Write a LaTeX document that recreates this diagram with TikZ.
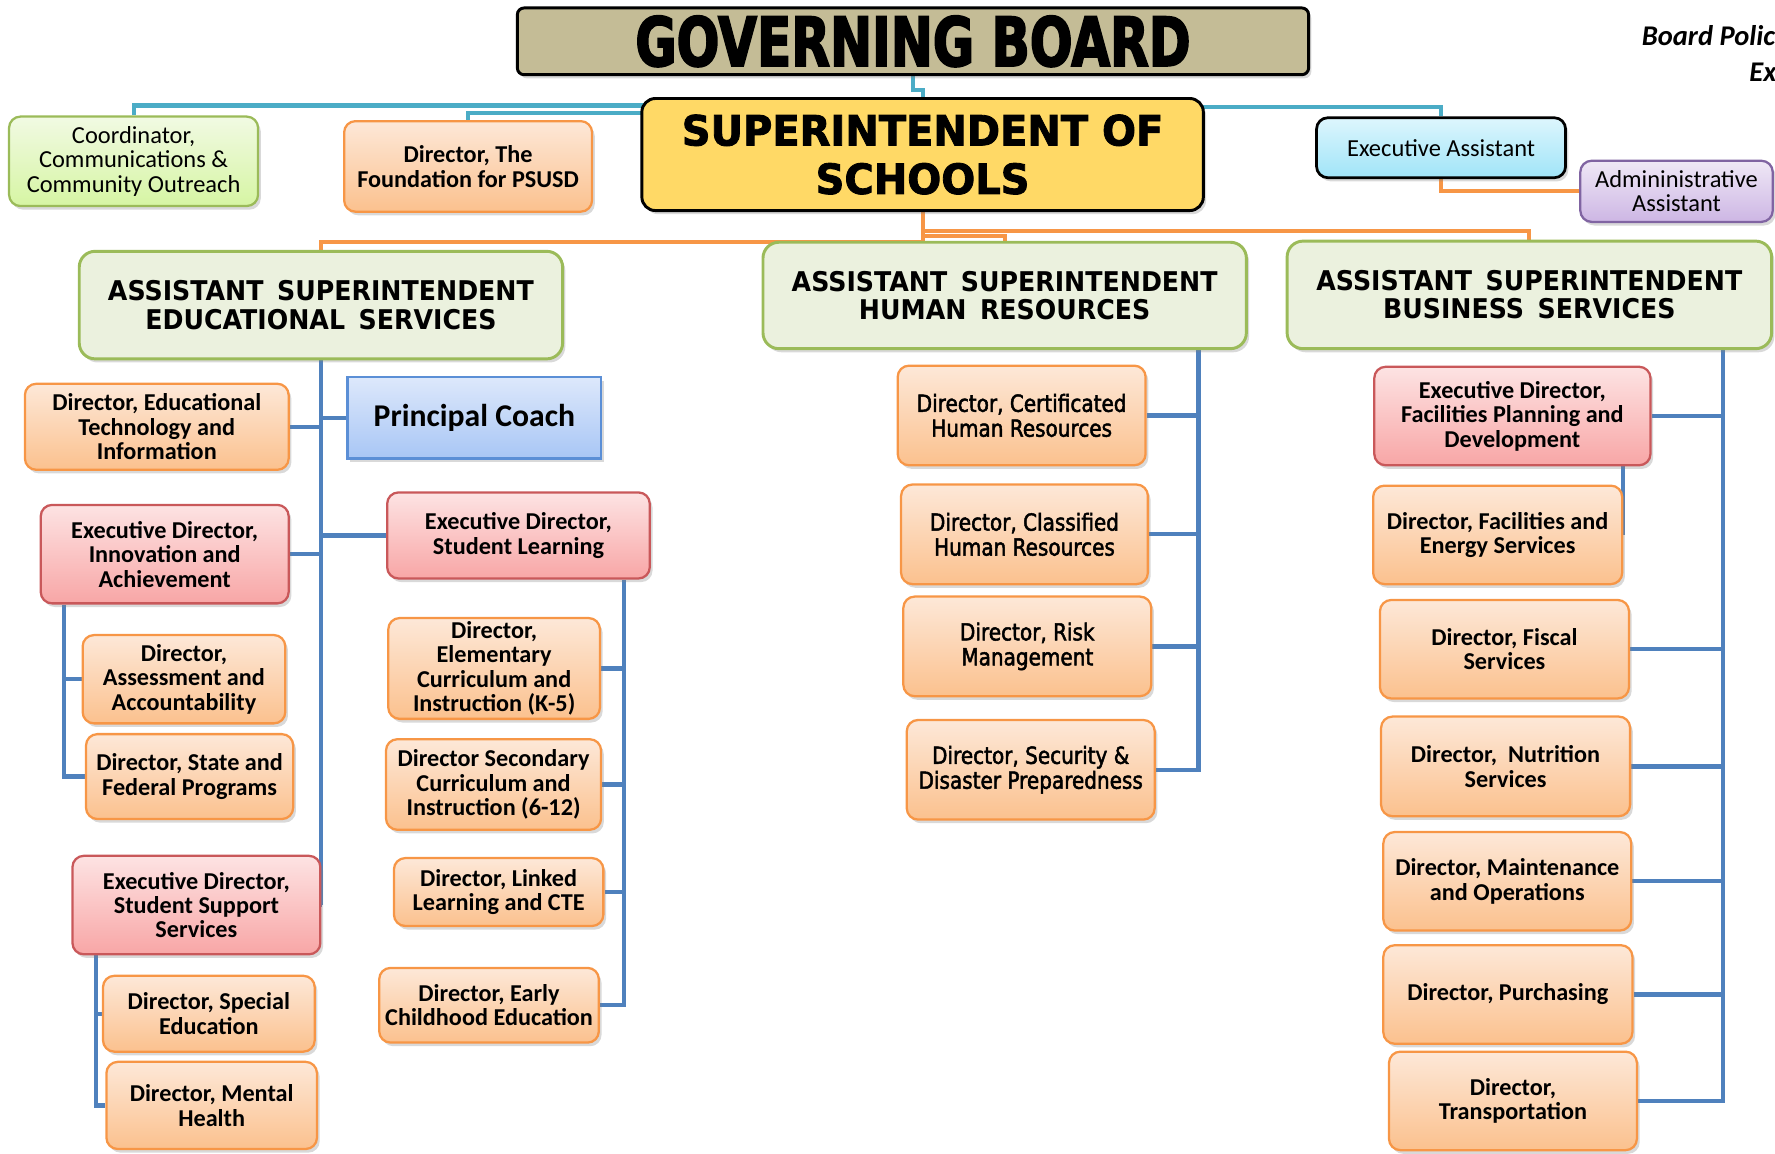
\documentclass[tikz,border=0pt]{standalone}
\usepackage{fontspec}
\setmainfont{Carlito}
\newfontfamily\hrfont{DejaVu Sans}[FakeStretch=0.85,FakeBold=2]
\newfontfamily\titlefont{DejaVu Sans}[FakeStretch=0.93]
\newfontfamily\govfont{DejaVu Sans}[FakeStretch=0.74,FakeBold=2.5]
\newfontfamily\supfont{DejaVu Sans}[FakeStretch=0.96,FakeBold=2]
\usepackage{tikz}
\usetikzlibrary{positioning,shadows,backgrounds,calc}

\definecolor{boardtan}{HTML}{C4BC96}
\definecolor{supyellow}{HTML}{FFD966}
\definecolor{linecyan}{HTML}{4BACC6}
\definecolor{lineorange}{HTML}{F79646}
\definecolor{lineblue}{HTML}{4F81BD}
\definecolor{orangetop}{HTML}{FDE8D8}
\definecolor{orangebot}{HTML}{FBC18E}
\definecolor{redtop}{HTML}{FDE3E3}
\definecolor{redbot}{HTML}{F8A6A6}
\definecolor{redline}{HTML}{C9585A}
\definecolor{titlefill}{HTML}{EBF1DE}
\definecolor{titlegreen}{HTML}{9BBB59}
\definecolor{greentop}{HTML}{F1FAE3}
\definecolor{greenbot}{HTML}{D6F5A3}
\definecolor{cyantop}{HTML}{DDF6FD}
\definecolor{cyanbot}{HTML}{A0E4F8}
\definecolor{lilactop}{HTML}{EFE8F6}
\definecolor{lilacbot}{HTML}{CDB6E4}
\definecolor{lilacline}{HTML}{8064A2}
\definecolor{coachtop}{HTML}{DDE8FB}
\definecolor{coachbot}{HTML}{A8C6F5}
\definecolor{coachline}{HTML}{5B8FD6}

\tikzset{
  orgbox/.style={draw, rounded corners=5pt, align=center, inner sep=1.5pt, line width=1pt,
    drop shadow={shadow xshift=1.2pt, shadow yshift=-1.6pt, opacity=0.3}},
  dirbox/.style={orgbox, draw=lineorange, top color=orangetop, bottom color=orangebot,
    font=\bfseries\fontsize{10.7}{10.8}\selectfont},
  exbox/.style={orgbox, draw=redline, top color=redtop, bottom color=redbot,
    font=\bfseries\fontsize{10.7}{10.8}\selectfont},
  hrbox/.style={dirbox, font=\hrfont\fontsize{10.4}{11}\selectfont},
  asbox/.style={orgbox, draw=titlegreen, fill=titlefill, rounded corners=7pt, line width=1.3pt,
    font=\titlefont\bfseries\fontsize{12}{12.5}\selectfont},
  lightbox/.style={orgbox, font=\fontsize{10.8}{10.8}\selectfont},
  blueline/.style={draw=lineblue, line width=1.9pt},
  orangeline/.style={draw=lineorange, line width=1.8pt},
  topline/.style={draw=linecyan, line width=1.8pt},
  policytext/.style={inner sep=0pt, font=\bfseries\itshape\fontsize{12.6}{13}\selectfont}
}

\begin{document}
\begin{tikzpicture}[x=0.5pt,y=-0.5pt]
\useasboundingbox (0,0) rectangle (1568,1019);

\node[orgbox, fill=boardtan, draw=black, line width=1.3pt, rounded corners=3pt,
  minimum width=349.5pt, minimum height=29.5pt,
  font=\govfont\bfseries\fontsize{30}{30}\selectfont] (gov) at (806.5,36.5) {GOVERNING BOARD};
\node[orgbox, fill=supyellow, draw=black, line width=1.3pt, rounded corners=6pt,
  minimum width=248pt, minimum height=49.5pt,
  font=\supfont\bfseries\fontsize{18.4}{21.4}\selectfont] (sup) at (815,136.5) {SUPERINTENDENT OF\\SCHOOLS};
\node[lightbox, draw=titlegreen, top color=greentop, bottom color=greenbot,
  minimum width=110pt, minimum height=39.5pt] (coord) at (118,142.5) {Coordinator,\\Communications \&\\Community Outreach};
\node[dirbox, minimum width=109.5pt, minimum height=40pt] (found) at (413.5,147) {Director, The\\Foundation for PSUSD};
\node[lightbox, draw=black, line width=1.2pt, top color=cyantop, bottom color=cyanbot,
  minimum width=110pt, minimum height=26.5pt] (execasst) at (1273,130.5) {Executive Assistant};
\node[lightbox, draw=lilacline, top color=lilactop, bottom color=lilacbot,
  minimum width=85pt, minimum height=27pt] (adminasst) at (1481,169) {Admininistrative\\Assistant};
\node[policytext, anchor=base west] (policy) at (1450,40) {Board Polic};
\node[policytext, anchor=base west] (exhibit) at (1545,72) {Ex};

\node[asbox, minimum width=213.5pt, minimum height=47.5pt] (ases) at (283.5,269.5) {ASSISTANT\hspace{.5em}SUPERINTENDENT\\EDUCATIONAL\hspace{.5em}SERVICES};
\node[asbox, minimum width=213.5pt, minimum height=47pt] (ashr) at (887.5,261) {ASSISTANT\hspace{.5em}SUPERINTENDENT\\HUMAN\hspace{.5em}RESOURCES};
\node[asbox, minimum width=214pt, minimum height=47.5pt] (asbs) at (1351,260.5) {ASSISTANT\hspace{.5em}SUPERINTENDENT\\BUSINESS\hspace{.5em}SERVICES};

\node[dirbox, minimum width=116.5pt, minimum height=38pt] (edtech) at (138.5,377) {Director, Educational\\Technology and\\Information};
\node[orgbox, rounded corners=0pt, draw=coachline, top color=coachtop, bottom color=coachbot,
  minimum width=112pt, minimum height=36pt, font=\bfseries\fontsize{14}{14}\selectfont] (coach) at (419,369) {Principal Coach};
\node[exbox, minimum width=109.5pt, minimum height=43.5pt] (innov) at (145.5,489.5) {Executive Director,\\Innovation and\\Achievement};
\node[exbox, minimum width=116pt, minimum height=38pt] (stlearn) at (458,473) {Executive Director,\\Student Learning};
\node[dirbox, minimum width=89.5pt, minimum height=39pt] (assess) at (162.5,600) {Director,\\Assessment and\\Accountability};
\node[dirbox, minimum width=91.5pt, minimum height=37.5pt] (statefed) at (167.5,686) {Director, State and\\Federal Programs};
\node[exbox, minimum width=109.5pt, minimum height=43.5pt] (stsupport) at (173.5,799.5) {Executive Director,\\Student Support\\Services};
\node[dirbox, minimum width=93.5pt, minimum height=33.5pt] (speced) at (184.5,895.5) {Director, Special\\Education};
\node[dirbox, minimum width=93pt, minimum height=38.5pt] (mental) at (187,976.5) {Director, Mental\\Health};
\node[dirbox, minimum width=93.5pt, minimum height=43.5pt] (elem) at (436.5,590.5) {Director,\\Elementary\\Curriculum and\\Instruction (K-5)};
\node[dirbox, minimum width=95pt, minimum height=40pt] (second) at (436,693) {Director Secondary\\Curriculum and\\Instruction (6-12)};
\node[dirbox, minimum width=92.5pt, minimum height=30pt] (linked) at (440.5,788) {Director, Linked\\Learning and CTE};
\node[dirbox, minimum width=97pt, minimum height=33pt] (early) at (432,888) {Director, Early\\Childhood Education};

\node[hrbox, minimum width=109.5pt, minimum height=44pt] (cert) at (902.5,367) {Director, Certificated\\Human Resources};
\node[hrbox, minimum width=109pt, minimum height=44pt] (classif) at (905,472) {Director, Classified\\Human Resources};
\node[hrbox, minimum width=109.5pt, minimum height=44pt] (risk) at (907.5,571) {Director, Risk\\Management};
\node[hrbox, minimum width=109.5pt, minimum height=44pt] (security) at (910.5,680) {Director, Security \&\\Disaster Preparedness};

\node[exbox, minimum width=122pt, minimum height=43.5pt] (facplan) at (1336,367.5) {Executive Director,\\Facilities Planning and\\Development};
\node[dirbox, minimum width=110pt, minimum height=43.5pt] (facenergy) at (1323,472.5) {Director, Facilities and\\Energy Services};
\node[dirbox, minimum width=110pt, minimum height=43.5pt] (fiscal) at (1329,573.5) {Director, Fiscal\\Services};
\node[dirbox, minimum width=110pt, minimum height=44pt] (nutrition) at (1330,677) {Director,\ \ Nutrition\\Services};
\node[dirbox, minimum width=109.5pt, minimum height=43.5pt] (maint) at (1331.5,778.5) {Director, Maintenance\\and Operations};
\node[dirbox, minimum width=110pt, minimum height=43.5pt] (purch) at (1332,878.5) {Director, Purchasing};
\node[dirbox, minimum width=109.5pt, minimum height=43.5pt] (transp) at (1336.5,972.5) {Director,\\Transportation};

\coordinate (innovbus) at ($(innov.south west)+(21.5,0)$);
\coordinate (supportbus) at ($(stsupport.south west)+(22,0)$);
\coordinate (learnbus) at ($(stlearn.south east)+(-24,0)$);
\coordinate (hrbus) at ($(ashr.south east)+(-43.5,0)$);
\coordinate (bsbus) at ($(asbs.south east)+(-44,0)$);

\begin{scope}[on background layer]
\draw[topline] (gov.south) -- ++(0,12) -| (sup.north);
\draw[topline] (coord.north) |- ($(sup.north)+(0,7.5)$);
\draw[topline] (found.north) |- ($(sup.north)+(0,14.5)$);
\draw[topline] ($(sup.north)+(0,8.5)$) -| (execasst.north);
\draw[orangeline] (execasst.south) |- (adminasst.west);
\draw[orangeline] (sup.south) -- ++(0,26.5) -| (ases.north);
\draw[orangeline] (sup.south) -- ++(0,21) -| (ashr.north);
\draw[orangeline] (sup.south) -- ++(0,17) -| (asbs.north);

\draw[blueline] (ases.south) |- (stsupport.east);
\draw[blueline] (edtech.east) -- (edtech.east -| ases.south);
\draw[blueline] (coach.west) -- (coach.west -| ases.south);
\draw[blueline] (innov.east) -- (innov.east -| ases.south);
\draw[blueline] (stlearn.west) -- (stlearn.west -| ases.south);
\draw[blueline] (innovbus) |- (statefed.west);
\draw[blueline] (assess.west) -- (assess.west -| innovbus);
\draw[blueline] (supportbus) |- (mental.west);
\draw[blueline] (speced.west) -- (speced.west -| supportbus);
\draw[blueline] (learnbus) |- (early.east);
\draw[blueline] (elem.east) -- (elem.east -| learnbus);
\draw[blueline] (second.east) -- (second.east -| learnbus);
\draw[blueline] (linked.east) -- (linked.east -| learnbus);

\draw[blueline] (hrbus) |- (security.east);
\draw[blueline] (cert.east) -- (cert.east -| hrbus);
\draw[blueline] (classif.east) -- (classif.east -| hrbus);
\draw[blueline] (risk.east) -- (risk.east -| hrbus);

\draw[blueline] (bsbus) |- (transp.east);
\draw[blueline] (facplan.east) -- (facplan.east -| bsbus);
\draw[blueline] (facplan.south -| facenergy.east) -- (facenergy.east);
\draw[blueline] (fiscal.east) -- (fiscal.east -| bsbus);
\draw[blueline] (nutrition.east) -- (nutrition.east -| bsbus);
\draw[blueline] (maint.east) -- (maint.east -| bsbus);
\draw[blueline] (purch.east) -- (purch.east -| bsbus);
\end{scope}
\end{tikzpicture}
\end{document}
